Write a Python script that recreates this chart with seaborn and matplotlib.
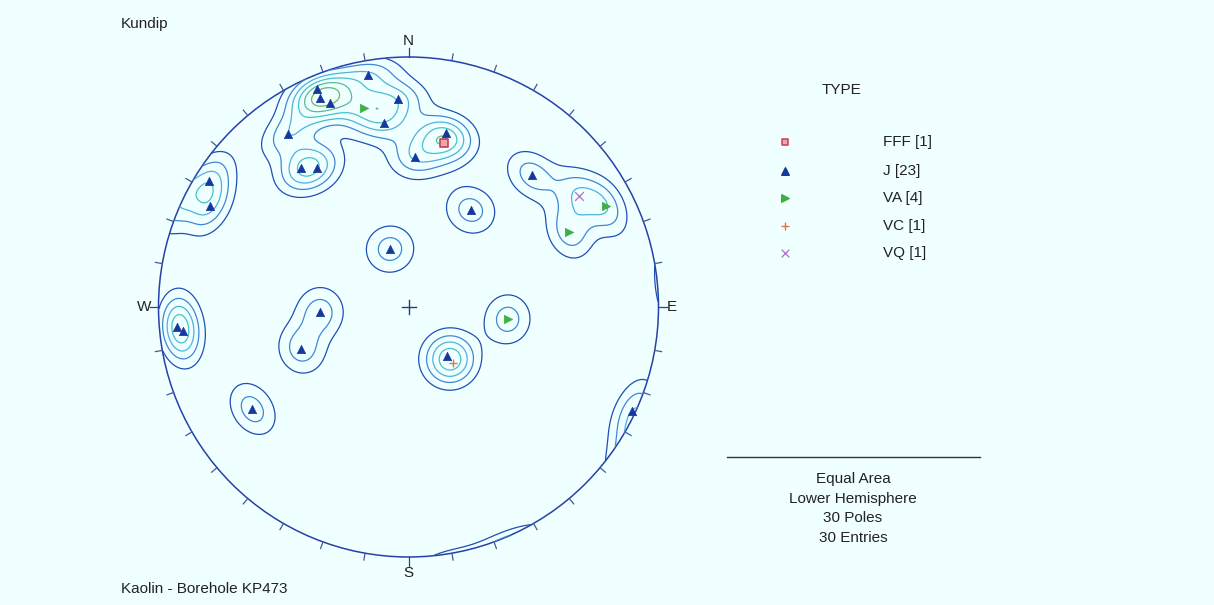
import numpy as np
import pandas as pd
import seaborn as sns
import matplotlib.pyplot as plt
from matplotlib.patches import Circle

# pole positions on the net (x = east, y = north, net radius = 1)
types = ["J"] * 23 + ["VA"] * 4 + ["FFF", "VC", "VQ"]
net_x = [-0.161, -0.367, -0.353, -0.313, -0.043, -0.099, -0.481, 0.149, 0.026,
         -0.431, -0.367, -0.799, -0.793, 0.495, -0.925, -0.901, -0.353, -0.429,
         -0.625, 0.155, 0.895, 0.249, -0.074,
         -0.179, 0.790, 0.643, 0.397,
         0.141, 0.177, 0.682]
net_y = [0.928, 0.872, 0.837, 0.815, 0.833, 0.737, 0.691, 0.695, 0.599,
         0.557, 0.557, 0.504, 0.405, 0.528, -0.079, -0.095, -0.019, -0.167,
         -0.409, -0.195, -0.416, 0.388, 0.232,
         0.795, 0.404, 0.301, -0.049,
         0.655, -0.223, 0.444]

type_order = ["FFF", "J", "VA", "VC", "VQ"]
type_colors = {"FFF": "#c8404f", "J": "#16379c", "VA": "#3cb043",
               "VC": "#e2724e", "VQ": "#b67ccc"}
type_markers = {"FFF": "s", "J": "^", "VA": ">", "VC": "+", "VQ": "x"}

level_colors = ["#1f4fb6", "#3f87d5", "#4fb2dc", "#46c2cc", "#58bc98",
                "#68b964", "#7cbd44"]
kappa = 105.0
level_step = 0.4

df = pd.DataFrame({"x": net_x, "y": net_y, "type": types})
n_poles = len(df)


def net_to_vec(x, y):
    r = np.clip(np.hypot(x, y), 1e-9, 1.0)
    phi = 2 * np.arcsin(r / np.sqrt(2))
    s = np.sin(phi) / np.hypot(x, y).clip(1e-9)
    return np.stack([x * s, y * s, np.cos(phi)], axis=-1)


# axial Fisher density on the lower hemisphere
g = np.linspace(-1.02, 1.02, 360)
GX, GY = np.meshgrid(g, g)
grid_v = net_to_vec(GX, GY)
pole_v = net_to_vec(df["x"].values, df["y"].values)
cosang = np.abs(np.tensordot(grid_v, pole_v.T, axes=1))
dens = np.exp(kappa * (cosang - 1)).sum(axis=-1)
levels = level_step * np.arange(1, len(level_colors) + 1)

bg = "#f0ffff"
fig = plt.figure(figsize=(12.14, 6.05), dpi=100, facecolor=bg)
ax = fig.add_axes([108.5 / 1214, -2 / 605, 600 / 1214, 600 / 605])
ax.set_xlim(-1.2, 1.2)
ax.set_ylim(-1.2, 1.2)
ax.axis("off")

clip = Circle((0, 0), 1, transform=ax.transData)
cs = ax.contour(GX, GY, dens, levels=levels, colors=level_colors,
                linewidths=0.9)
cs.set_clip_path(clip)

net_col = "#2442a8"
ax.add_patch(Circle((0, 0), 1, fill=False, ec=net_col, lw=1.1))
for az in range(0, 360, 10):
    a = np.radians(az)
    L = 0.035 if az % 90 == 0 else 0.028
    ax.plot([np.sin(a), (1 + L) * np.sin(a)], [np.cos(a), (1 + L) * np.cos(a)],
            color=net_col if az % 90 == 0 else "#46589a", lw=0.9)
ax.plot([-0.028, 0.028], [0, 0], color="#2a3a80", lw=1.0)
ax.plot([0, 0], [-0.028, 0.028], color="#2a3a80", lw=1.0)

font = "Liberation Sans"
tc = "#222222"
for lab, (lx, ly) in {"N": (0, 1.064), "S": (0, -1.064),
                      "W": (-1.058, 0), "E": (1.054, 0)}.items():
    ax.text(lx, ly, lab, ha="center", va="center", fontsize=11,
            family=font, color=tc)

for t in type_order:
    sub = df[df["type"] == t]
    kw = dict(color=type_colors[t], marker=type_markers[t], s=36, ax=ax,
              legend=False, zorder=5)
    if t == "FFF":
        kw.update(s=26, color="#eea6ae", edgecolor=type_colors[t], linewidth=1.2)
    elif t in ("VC", "VQ"):
        kw.update(s=40, linewidth=1.0)
    else:
        kw.update(edgecolor=type_colors[t], linewidth=0.5)
    sns.scatterplot(data=sub, x="x", y="y", **kw)

# overlay in pixel space for titles, legend and stats
lax = fig.add_axes([0, 0, 1, 1], facecolor="none")
lax.set_xlim(0, 1214)
lax.set_ylim(605, 0)
lax.axis("off")

lax.text(121, 24, "Kundip", fontsize=11, family=font, color=tc, va="center")
lax.text(121, 589, "Kaolin - Borehole KP473", fontsize=11, family=font,
         color=tc, va="center")
lax.text(842, 90, "TYPE", fontsize=11, family=font, color=tc,
         ha="center", va="center")

counts = df["type"].value_counts()
row_y = [142, 171, 198, 226, 253]
for t, ry in zip(type_order, row_y):
    kw = dict(color=type_colors[t], marker=type_markers[t], s=30)
    if t == "FFF":
        kw.update(s=22, color="#eea6ae", edgecolor=type_colors[t], linewidth=1.1)
    elif t in ("VC", "VQ"):
        kw.update(linewidth=1.0)
    lax.scatter([785], [ry], **kw)
    lax.text(883, ry, f"{t} [{counts[t]}]", fontsize=11, family=font,
             color=tc, va="center")

lax.plot([727, 980], [457, 457], color="#333333", lw=1.0)
stats = ["Equal Area", "Lower Hemisphere", f"{n_poles} Poles",
         f"{n_poles} Entries"]
for i, s in enumerate(stats):
    lax.text(853, 479 + 19.7 * i, s, fontsize=11, family=font, color=tc,
             ha="center", va="center")

fig.savefig("out.png", dpi=100, facecolor=bg)
